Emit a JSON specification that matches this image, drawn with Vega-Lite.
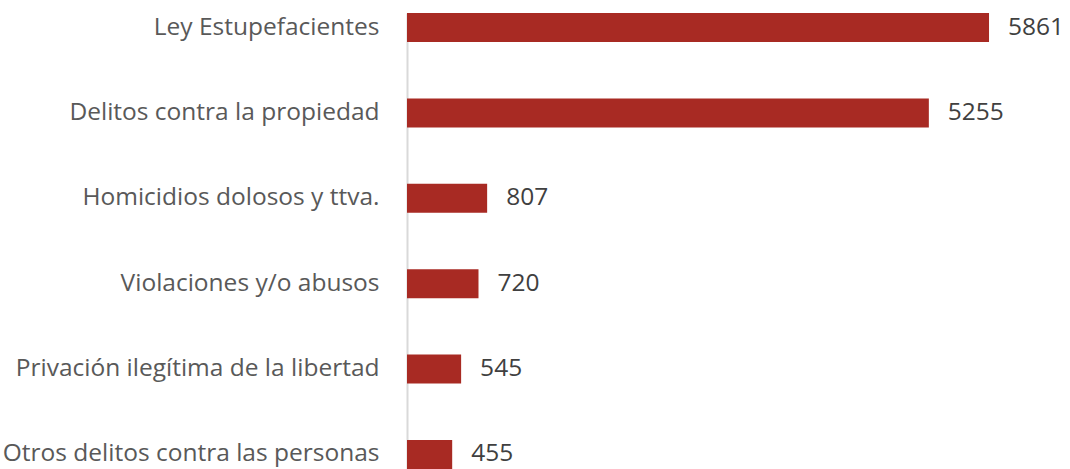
{
  "$schema": "https://vega.github.io/schema/vega-lite/v6.json",
  "autosize": {"type": "none"},
  "width": 600,
  "height": 456,
  "padding": {"left": 407, "top": 13, "right": 63, "bottom": 0},
  "background": "white",
  "config": {"view": {"stroke": null}, "font": "Open Sans"},
  "data": {
    "values": [
      {"delito": "Ley Estupefacientes", "casos": 5861},
      {"delito": "Delitos contra la propiedad", "casos": 5255},
      {"delito": "Homicidios dolosos y ttva.", "casos": 807},
      {"delito": "Violaciones y/o abusos", "casos": 720},
      {"delito": "Privación ilegítima de la libertad", "casos": 545},
      {"delito": "Otros delitos contra las personas", "casos": 455}
    ]
  },
  "encoding": {
    "y": {
      "field": "delito", "type": "nominal", "sort": null,
      "scale": {"paddingInner": 0.66, "paddingOuter": 0},
      "axis": {
        "title": null, "ticks": false, "labelPadding": 28, "labelLimit": 420,
        "labelFont": "Open Sans", "labelFontSize": 24.5, "labelColor": "#595959",
        "domainColor": "#D9D9D9", "domainWidth": 2
      }
    },
    "x": {
      "field": "casos", "type": "quantitative",
      "scale": {"domain": [0, 6042], "nice": false},
      "axis": null
    }
  },
  "layer": [
    {"mark": {"type": "bar", "color": "#A82A23"}},
    {"mark": {"type": "text", "align": "left", "baseline": "middle", "dx": 19, "fontSize": 24.5, "color": "#404040", "font": "Open Sans"},
     "encoding": {"text": {"field": "casos", "type": "quantitative", "format": "d"}}}
  ]
}
